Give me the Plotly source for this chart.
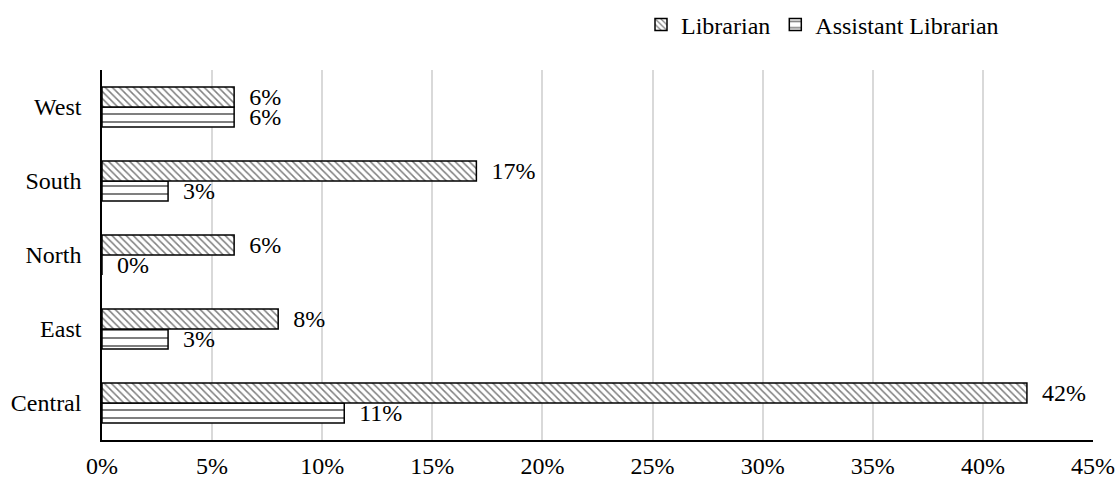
import plotly.graph_objects as go

categories = ["Central", "East", "North", "South", "West"]
librarian = [42, 8, 6, 17, 6]
assistant = [11, 3, 0, 3, 6]
tick_vals = [0, 5, 10, 15, 20, 25, 30, 35, 40, 45]
tick_text = [f"{v}%" for v in tick_vals]

FONT = "Liberation Serif"
FS = 24

fig = go.Figure()
fig.add_trace(go.Bar(
    y=categories, x=assistant, orientation="h", name="Assistant Librarian",
    marker=dict(color="white", line=dict(color="black", width=1.5),
                pattern=dict(shape="-", fgcolor="black", bgcolor="white", size=8, solidity=0.25)),
    text=[f"\u00a0\u00a0{v}%" for v in assistant], textposition="outside",
    constraintext="none",
    textfont=dict(family=FONT, size=FS, color="black"), cliponaxis=False,
))
fig.add_trace(go.Bar(
    y=categories, x=librarian, orientation="h", name="Librarian",
    marker=dict(color="white", line=dict(color="black", width=1.5),
                pattern=dict(shape="\\", fgcolor="black", bgcolor="white", size=5, solidity=0.3)),
    text=[f"\u00a0\u00a0{v}%" for v in librarian], textposition="outside",
    constraintext="none",
    textfont=dict(family=FONT, size=FS, color="black"), cliponaxis=False,
))

fig.update_layout(
    width=1119, height=477,
    margin=dict(l=102, r=26, t=70, b=37, autoexpand=False),
    paper_bgcolor="white", plot_bgcolor="white",
    barmode="group", bargap=0.46, bargroupgap=0,
    font=dict(family=FONT, size=FS, color="black"),
    showlegend=True,
    legend=dict(orientation="h", traceorder="reversed",
                xref="container", yref="container",
                x=1004 / 1119, xanchor="right", y=1 - 25 / 477, yanchor="middle",
                font=dict(family=FONT, size=FS, color="black"),
                itemwidth=30, bgcolor="rgba(0,0,0,0)"),
)
fig.update_xaxes(range=[0, 45], tickvals=tick_vals, ticktext=tick_text,
                 showgrid=True, gridcolor="#d9d9d9", gridwidth=1.5,
                 showline=True, linecolor="black", linewidth=1.5,
                 zeroline=False, ticks="", ticklabelstandoff=3, automargin=False,
                 tickfont=dict(family=FONT, size=FS, color="black"))
fig.update_yaxes(categoryorder="array", categoryarray=categories,
                 showline=True, linecolor="black", linewidth=1.5,
                 showgrid=False, ticks="", ticklabelstandoff=14, automargin=False,
                 tickfont=dict(family=FONT, size=FS, color="black"))

fig.write_html("out.html", config={"displayModeBar": False},
               post_script="document.body.style.margin='0';document.body.style.overflow='hidden';")
